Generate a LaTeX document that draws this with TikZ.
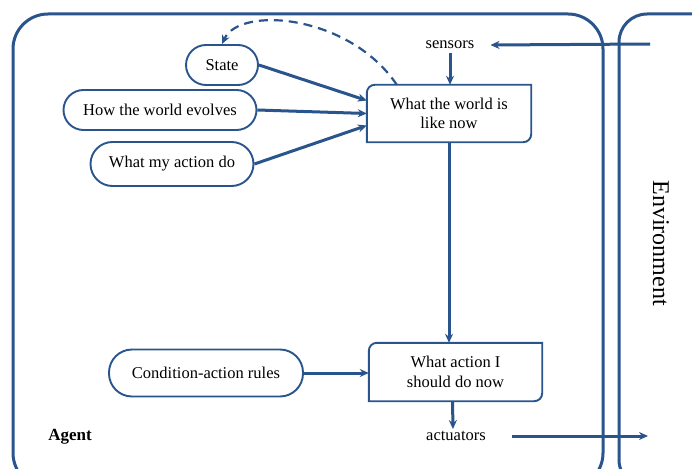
\documentclass[tikz,border=0pt]{standalone}
\usepackage{fontspec}
\setmainfont{Liberation Serif}
\usetikzlibrary{arrows.meta}
\usetikzlibrary{calc}
\usetikzlibrary{positioning}

\definecolor{agentblue}{RGB}{41,84,140}

\tikzset{
  frame/.style={draw=agentblue, line width=3pt},
  pill/.style={draw=agentblue, line width=1.9pt, rounded corners=20pt,
    minimum height=40pt, inner sep=0pt, font=\fontsize{16.5}{19.5}\selectfont},
  plain/.style={inner sep=0pt, align=center, font=\fontsize{16.5}{19.5}\selectfont},
  flow/.style={draw=agentblue, line width=3pt,
    -{Stealth[length=9pt,width=8pt]}},
}

% box with the top left and bottom right corners rounded
\newcommand\cornerbox[1]{%
  \draw[agentblue, line width=1.9pt] (#1.south west) -- ($(#1.north west)+(0,-8)$)
    arc[start angle=180, end angle=90, radius=8] -- (#1.north east)
    -- ($(#1.south east)+(0,8)$)
    arc[start angle=0, end angle=-90, radius=8] -- cycle;}

\begin{document}
\begin{tikzpicture}[x=1pt, y=1pt]
      \useasboundingbox (0,0) rectangle (692,-468);
      \clip (0,0) rectangle (692,-468);

      % agent and environment
      \draw[frame, rounded corners=35] (13,-14) rectangle (603,-488);
      \draw[frame, rounded corners=28] (619,-14) rectangle (730,-488);
      \node[plain, font=\fontsize{17}{20}\selectfont\bfseries] (agent) at (70,-437) {Agent};
      \node[plain, font=\fontsize{24}{28}\selectfont, rotate=-90] (env) at (661,-243) {Environment};

      % inner nodes
      \node[pill, minimum width=72pt] (state) at (222,-65) {State};
      \node[pill, minimum width=193pt] (evolve) at (160,-110) {How the world evolves};
      \node[pill, minimum width=163pt, minimum height=44pt, rounded corners=22pt] (effect) at (172,-164) {What my action do};
      \node[pill, minimum width=194pt, minimum height=47pt, rounded corners=23pt] (rules) at (206,-373) {Condition-action rules};

      \node[plain, minimum width=164pt, minimum height=57pt] (world) at (449,-113.5) {What the world is\\like now};
      \node[plain, minimum width=173pt, minimum height=58pt] (action) at (455.5,-372) {What action I\\should do now};
      \cornerbox{world}
      \cornerbox{action}

      \node[plain] (sensors) at (450,-45) {sensors};
      \node[plain] (actuators) at (456,-436) {actuators};
      \coordinate (envin) at (650,-44);
      \coordinate (envout) at (648,-436);

      % connectors
      \draw[flow] (envin) -- ([xshift=16pt]sensors.east);
      \draw[flow] ([yshift=-4pt]sensors.south) -- (sensors.south |- world.north);
      \draw[flow] (state.east) -- ([yshift=13pt]world.west);
      \draw[flow] (evolve.east) -- (world.west);
      \draw[flow] (effect.east) -- ([yshift=-12pt]world.west);
      \draw[flow] (world.south) -- (world.south |- action.north);
      \draw[flow] (rules.east) -- (rules.east -| action.west);
      \draw[flow] ([xshift=-3pt]action.south) -- ([xshift=-3pt,yshift=2pt]actuators.north);
      \draw[flow] ([xshift=26pt]actuators.east) -- (envout);

      % dashed feedback
      \draw[flow, dashed, dash pattern=on 9pt off 6pt, line width=2.2pt]
        ($(world.north west)+(30,0)$) .. controls (350,-15) and (240,-5) .. (state.north);
    \end{tikzpicture}
\end{document}
